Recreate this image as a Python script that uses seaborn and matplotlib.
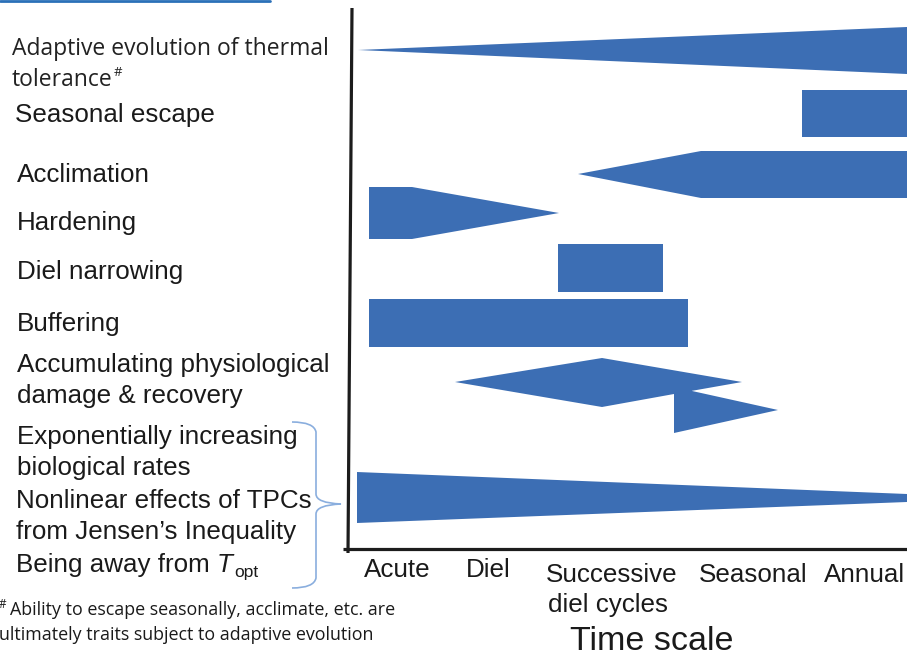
import matplotlib
matplotlib.use("Agg")
import matplotlib.pyplot as plt
import seaborn as sns
from matplotlib.path import Path
from matplotlib.patches import PathPatch

# process shapes, in figure pixel units (x = time scale, y = row)
adaptive_x = [358, 907, 907]
adaptive_y = [50, 27, 74]
seasonal_x = [802, 907, 907, 802]
seasonal_y = [90, 90, 137, 137]
acclim_x = [578, 701, 907, 907, 701]
acclim_y = [174, 151, 151, 198, 198]
harden_x = [369, 412, 559, 412, 369]
harden_y = [187, 187, 213, 239, 239]
diel_x = [558, 663, 663, 558]
diel_y = [244, 244, 292, 292]
buffer_x = [369, 688, 688, 369]
buffer_y = [299, 299, 347, 347]
damage_x = [455, 602, 742, 674, 674, 778, 674, 674, 602]
damage_y = [382, 358, 382, 394, 387, 410, 433, 394, 407]
rates_x = [357, 907, 907, 357]
rates_y = [472, 494, 502, 523]
shapes = [(adaptive_x, adaptive_y), (seasonal_x, seasonal_y), (acclim_x, acclim_y),
          (harden_x, harden_y), (diel_x, diel_y), (buffer_x, buffer_y),
          (damage_x, damage_y), (rates_x, rates_y)]

row_labels = ["Seasonal escape", "Acclimation", "Hardening", "Diel narrowing", "Buffering",
              "Accumulating physiological", "damage & recovery",
              "Exponentially increasing", "biological rates",
              "Nonlinear effects of TPCs", "from Jensen\u2019s Inequality"]
row_y = [115, 175, 223, 272, 324, 365, 396, 437, 468, 501, 532]
row_x = [15, 17, 17, 17, 17, 17, 17, 17, 17, 16, 16]

tick_labels = ["Acute", "Diel", "Successive", "Seasonal", "Annual"]
tick_x = [397, 488, 612, 753, 865]
tick_y = [570, 570, 575, 575, 575]

sns.set_theme(style="white")
plt.rcParams['font.family'] = ['Liberation Sans', 'DejaVu Sans']

fig = plt.figure(figsize=(9.07, 6.59), dpi=100)
ax = fig.add_axes([0, 0, 1, 1])
ax.set_xlim(0, 907)
ax.set_ylim(659, 0)
ax.axis('off')
blue = '#3c6eb4'
ink = '#1a1a1a'

for xs, ys in shapes:
    ax.fill(xs, ys, color=blue, lw=0)

# axes
ax.plot([352, 348], [8, 553], color='#1c1c1c', lw=2.3, solid_capstyle='butt')
ax.plot([343, 907], [549, 549], color='#1c1c1c', lw=2.3, solid_capstyle='butt')
# top decoration line
ax.plot([0, 270], [1, 1], color='#2a70b8', lw=2)

# brace
verts = [(292, 422), (314, 422), (316, 432), (316, 494), (316, 503), (341, 504),
         (316, 505), (316, 514), (316, 578), (314, 588), (292, 588)]
codes = [Path.MOVETO, Path.CURVE3, Path.CURVE3, Path.LINETO, Path.CURVE3, Path.CURVE3,
         Path.CURVE3, Path.CURVE3, Path.LINETO, Path.CURVE3, Path.CURVE3]
ax.add_patch(PathPatch(Path(verts, codes), fill=False, ec='#8aaede', lw=1.2))

renderer = fig.canvas.get_renderer()


def right_edge(t):
    bb = t.get_window_extent(renderer=renderer)
    return ax.transData.inverted().transform((bb.x1, bb.y0))[0]


t = ax.text(12, 49, "Adaptive evolution of thermal", family='Open Sans', fontsize=16.5,
            color='#222222', va='center')
t = ax.text(12, 80, "tolerance", family='Open Sans', fontsize=16.5, color='#222222', va='center')
ax.text(right_edge(t) + 1, 73, "#", family='Open Sans', fontsize=9.5, color='#222222', va='center')

for lab, x, y in zip(row_labels, row_x, row_y):
    ax.text(x, y, lab, fontsize=18.7, color=ink, va='center')

t = ax.text(16, 565, "Being away from ", fontsize=18.7, color=ink, va='center')
t = ax.text(right_edge(t), 565, "T", fontsize=18.7, style='italic', color=ink, va='center')
ax.text(right_edge(t) + 1, 572, "opt", fontsize=12.5, color=ink, va='center')

for lab, x, y in zip(tick_labels, tick_x, tick_y):
    ax.text(x, y, lab, fontsize=18.7, color=ink, va='center', ha='center')
ax.text(548, 605, "diel cycles", fontsize=18.7, color=ink, va='center')
ax.text(652, 642, "Time scale", fontsize=24.5, color=ink, va='center', ha='center')

t = ax.text(-1, 604, "#", family='Open Sans', fontsize=8.5, color=ink, va='center')
ax.text(right_edge(t) + 3, 610, "Ability to escape seasonally, acclimate, etc. are",
        family='Open Sans', fontsize=12.9, color=ink, va='center')
ax.text(-1, 635, "ultimately traits subject to adaptive evolution",
        family='Open Sans', fontsize=12.9, color=ink, va='center')

fig.savefig("out.png", dpi=100)
